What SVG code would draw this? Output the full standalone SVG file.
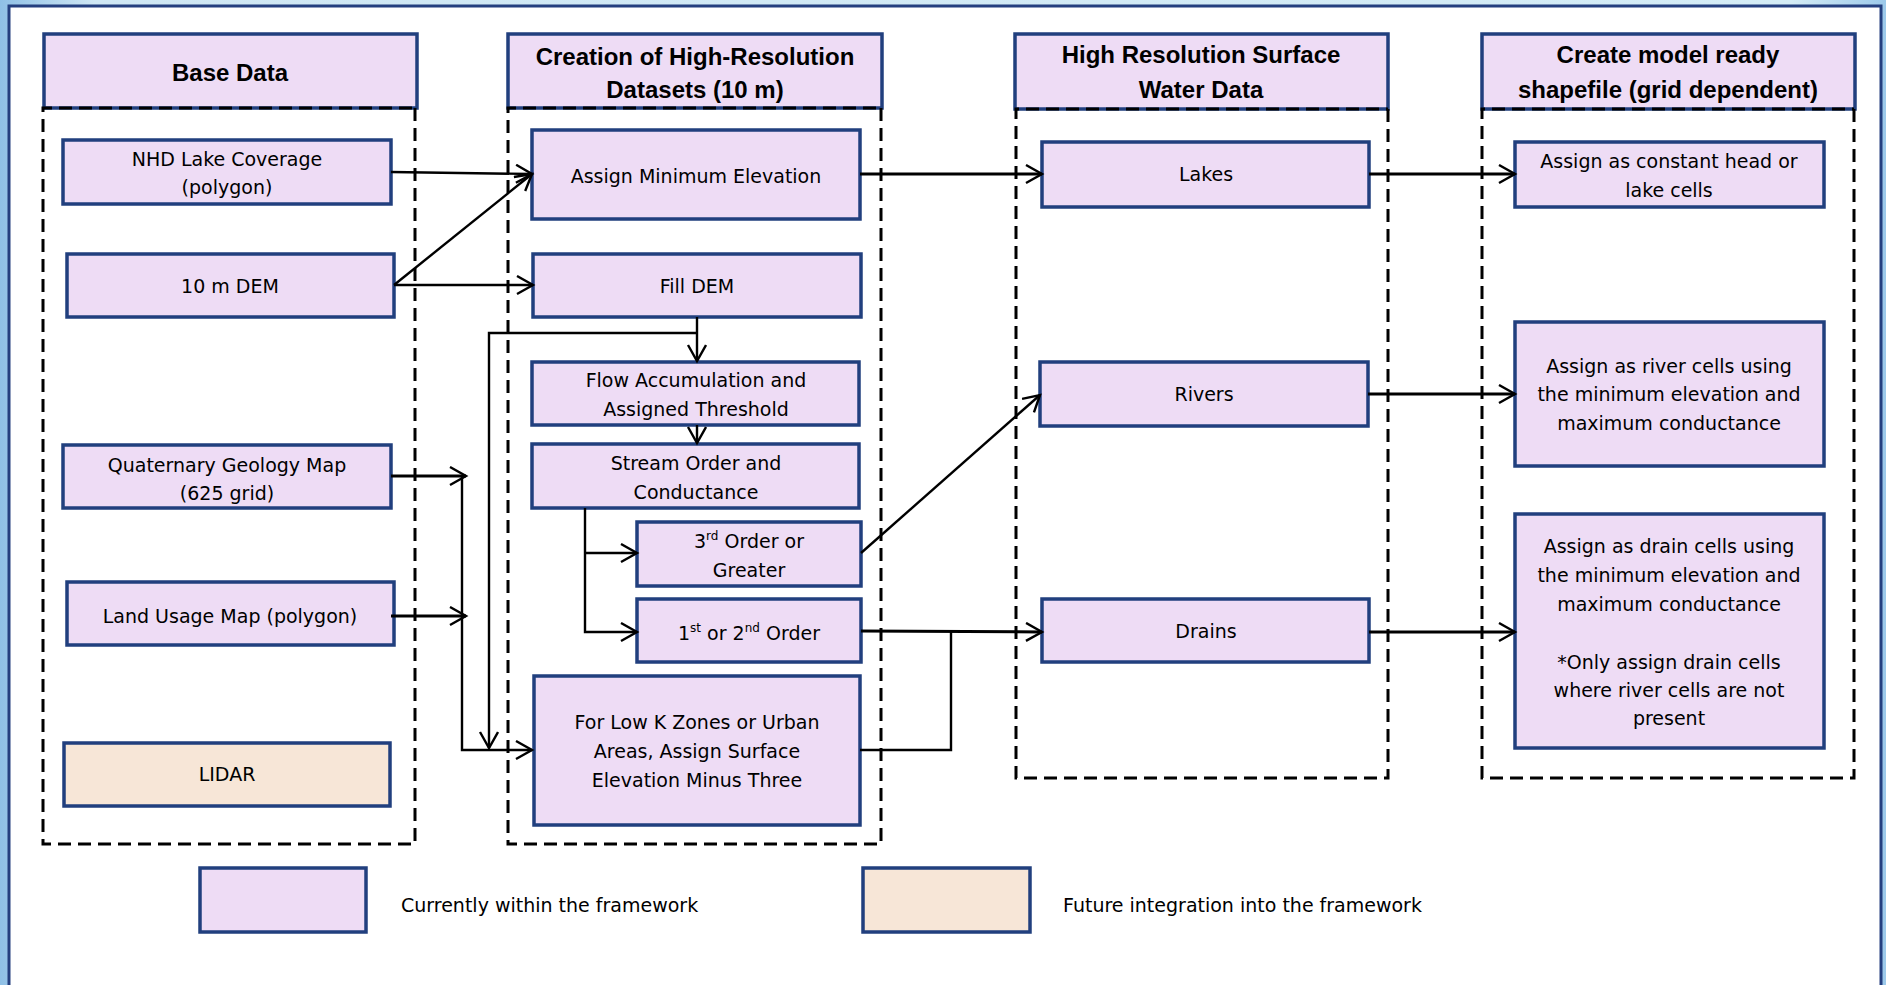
<svg xmlns="http://www.w3.org/2000/svg" width="1886" height="985" viewBox="0 0 1886 985">
<defs>
<linearGradient id="bg" x1="0" y1="0" x2="1" y2="0">
<stop offset="0" stop-color="#8fc0e6"/>
<stop offset="0.05" stop-color="#cfe7f4"/>
<stop offset="0.95" stop-color="#d4ecf6"/>
<stop offset="1" stop-color="#9cc9ea"/>
</linearGradient>
<marker id="arr" markerUnits="userSpaceOnUse" markerWidth="20" markerHeight="24" refX="17" refY="10" orient="auto">
<path d="M1,1 L17,10 L1,19" fill="none" stroke="#000" stroke-width="2.4"/>
</marker>
<style>
.box{fill:#EEDCF5;stroke:#213F7E;stroke-width:3.5}
.fut{fill:#F7E6D7;stroke:#213F7E;stroke-width:3.5}
.cont{fill:none;stroke:#000;stroke-width:3;stroke-dasharray:13 7}
.hdr{font-family:"Liberation Sans",Arial,sans-serif;font-weight:bold;font-size:24px;text-anchor:middle;fill:#000}
.t{font-family:"DejaVu Sans",sans-serif;font-size:19px;text-anchor:middle;fill:#000}
.lg{font-family:"DejaVu Sans",sans-serif;font-size:19px;text-anchor:start;fill:#000}
.c{fill:none;stroke:#000;stroke-width:2.4}
.c3{fill:none;stroke:#000;stroke-width:3}
.sup{font-size:12px}
</style>
</defs>
<rect x="0" y="0" width="1886" height="985" fill="url(#bg)"/>
<rect x="9" y="6" width="1872" height="1000" fill="#fff" stroke="#243F7F" stroke-width="3"/>

<g id="col-base">
<rect class="box" x="44" y="34" width="373" height="74"/>
<text class="hdr" x="230" y="81">Base Data</text>
<path class="cont" d="M415,108 L415,844 L43,844 L43,108 L415,108"/>
</g>
<g id="col-creation">
<rect class="box" x="508" y="34" width="374" height="74"/>
<text class="hdr" x="695" y="65">Creation of High-Resolution</text>
<text class="hdr" x="695" y="98">Datasets (10 m)</text>
<path class="cont" d="M881,108 L881,844 L508,844 L508,108 L881,108"/>
</g>
<g id="col-hrsw">
<rect class="box" x="1015" y="34" width="373" height="75"/>
<text class="hdr" x="1201" y="63">High Resolution Surface</text>
<text class="hdr" x="1201" y="98">Water Data</text>
<path class="cont" d="M1388,109 L1388,778 L1016,778 L1016,109 L1388,109"/>
</g>
<g id="col-model">
<rect class="box" x="1482" y="34" width="373" height="75"/>
<text class="hdr" x="1668" y="63">Create model ready</text>
<text class="hdr" x="1668" y="98">shapefile (grid dependent)</text>
<path class="cont" d="M1854,109 L1854,778 L1482,778 L1482,109 L1854,109"/>
</g>

<g id="nhd"><rect class="box" x="63" y="140" width="328" height="64"/>
<text class="t" x="227" y="166">NHD Lake Coverage</text><text class="t" x="227" y="194">(polygon)</text></g>
<g id="dem"><rect class="box" x="67" y="254" width="327" height="63"/>
<text class="t" x="230" y="293">10 m DEM</text></g>
<g id="geology"><rect class="box" x="63" y="445" width="328" height="63"/>
<text class="t" x="227" y="472">Quaternary Geology Map</text><text class="t" x="227" y="500">(625 grid)</text></g>
<g id="landuse"><rect class="box" x="67" y="582" width="327" height="63"/>
<text class="t" x="230" y="623">Land Usage Map (polygon)</text></g>
<g id="lidar"><rect class="fut" x="64" y="743" width="326" height="63"/>
<text class="t" x="227" y="781">LIDAR</text></g>

<g id="ame"><rect class="box" x="532" y="130" width="328" height="89"/>
<text class="t" x="696" y="183">Assign Minimum Elevation</text></g>
<g id="filldem"><rect class="box" x="533" y="254" width="328" height="63"/>
<text class="t" x="697" y="293">Fill DEM</text></g>
<g id="flowacc"><rect class="box" x="532" y="362" width="327" height="63"/>
<text class="t" x="696" y="387">Flow Accumulation and</text><text class="t" x="696" y="416">Assigned Threshold</text></g>
<g id="stream"><rect class="box" x="532" y="444" width="327" height="64"/>
<text class="t" x="696" y="470">Stream Order and</text><text class="t" x="696" y="499">Conductance</text></g>
<g id="third"><rect class="box" x="637" y="522" width="224" height="64"/>
<text class="t" x="749" y="548">3<tspan class="sup" dy="-8">rd</tspan><tspan dy="8"> Order or</tspan></text><text class="t" x="749" y="577">Greater</text></g>
<g id="first"><rect class="box" x="637" y="599" width="224" height="63"/>
<text class="t" x="749" y="640">1<tspan class="sup" dy="-8">st</tspan><tspan dy="8"> or 2</tspan><tspan class="sup" dy="-8">nd</tspan><tspan dy="8"> Order</tspan></text></g>
<g id="lowk"><rect class="box" x="534" y="676" width="326" height="149"/>
<text class="t" x="697" y="729">For Low K Zones or Urban</text><text class="t" x="697" y="758">Areas, Assign Surface</text><text class="t" x="697" y="787">Elevation Minus Three</text></g>

<g id="lakes"><rect class="box" x="1042" y="142" width="327" height="65"/>
<text class="t" x="1206" y="181">Lakes</text></g>
<g id="rivers"><rect class="box" x="1040" y="362" width="328" height="64"/>
<text class="t" x="1204" y="401">Rivers</text></g>
<g id="drains"><rect class="box" x="1042" y="599" width="327" height="63"/>
<text class="t" x="1206" y="638">Drains</text></g>

<g id="consthead"><rect class="box" x="1515" y="142" width="309" height="65"/>
<text class="t" x="1669" y="168">Assign as constant head or</text><text class="t" x="1669" y="197">lake cells</text></g>
<g id="rivercells"><rect class="box" x="1515" y="322" width="309" height="144"/>
<text class="t" x="1669" y="373">Assign as river cells using</text><text class="t" x="1669" y="401">the minimum elevation and</text><text class="t" x="1669" y="430">maximum conductance</text></g>
<g id="draincells"><rect class="box" x="1515" y="514" width="309" height="234"/>
<text class="t" x="1669" y="553">Assign as drain cells using</text><text class="t" x="1669" y="582">the minimum elevation and</text><text class="t" x="1669" y="611">maximum conductance</text>
<text class="t" x="1669" y="669">*Only assign drain cells</text><text class="t" x="1669" y="697">where river cells are not</text><text class="t" x="1669" y="725">present</text></g>

<g id="legend">
<rect class="box" x="200" y="868" width="166" height="64"/>
<text class="lg" x="401" y="912">Currently within the framework</text>
<rect class="fut" x="863" y="868" width="167" height="64"/>
<text class="lg" x="1063" y="912">Future integration into the framework</text>
</g>

<g id="connectors">
<path class="c" d="M391,172 L532,174" marker-end="url(#arr)"/>
<path class="c" d="M394,285 L532,174" marker-end="url(#arr)"/>
<path class="c" d="M394,285 L533,285" marker-end="url(#arr)"/>
<path class="c3" d="M860,174 L1042,174" marker-end="url(#arr)"/>
<path class="c3" d="M1369,174 L1515,174" marker-end="url(#arr)"/>
<path class="c" d="M697,317 L697,361" marker-end="url(#arr)"/>
<path class="c" d="M697,333 L489,333 L489,748" marker-end="url(#arr)"/>
<path class="c" d="M697,425 L697,443" marker-end="url(#arr)"/>
<path class="c" d="M585,508 L585,632 L637,632" marker-end="url(#arr)"/>
<path class="c" d="M585,553 L637,553" marker-end="url(#arr)"/>
<path class="c" d="M861,553 L1040,395" marker-end="url(#arr)"/>
<path class="c3" d="M861,631 L1042,632" marker-end="url(#arr)"/>
<path class="c" d="M860,750 L951,750 L951,631"/>
<path class="c3" d="M391,476 L466,476" marker-end="url(#arr)"/>
<path class="c3" d="M391,616 L466,616" marker-end="url(#arr)"/>
<path class="c" d="M462,476 L462,750 L532,750" marker-end="url(#arr)"/>
<path class="c3" d="M1368,394 L1515,394" marker-end="url(#arr)"/>
<path class="c3" d="M1369,632 L1515,632" marker-end="url(#arr)"/>
</g>
</svg>
